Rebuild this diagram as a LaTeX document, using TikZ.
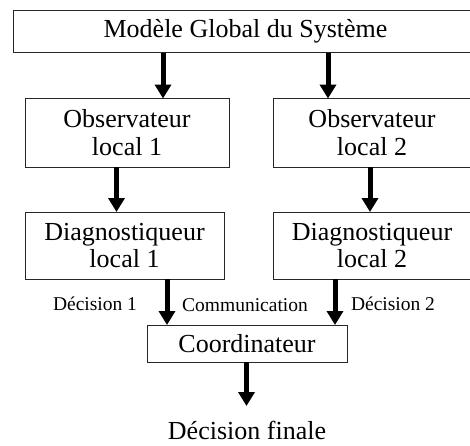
\documentclass[tikz,border=0pt]{standalone}
\usepackage{fontspec}
\setmainfont{Liberation Serif}
\usetikzlibrary{arrows.meta}
\begin{document}
\begin{tikzpicture}[x=1pt,y=-1pt,
  box/.style={draw=black!85,line width=1pt,rectangle,inner sep=0pt,outer sep=0pt,
    align=center,font=\fontsize{26}{27.5}\selectfont},
  lbl/.style={inner sep=0pt,anchor=base,font=\fontsize{19.5}{22}\selectfont},
  big/.style={inner sep=0pt,anchor=base,font=\fontsize{26}{27.5}\selectfont},
  arr/.style={line width=5pt,-{Triangle[width=16pt,length=14pt]}}]
\useasboundingbox (0,0) rectangle (470,445);
\begin{scope}
\clip (0,0) rectangle (470,445);
\node[box,minimum width=465pt,minimum height=42pt] (top) at (245.5,31.5) {Modèle Global du Système};
\node[box,minimum width=204pt,minimum height=68.5pt] (obs1) at (127,132.75) {Observateur\\local 1};
\node[box,minimum width=198pt,minimum height=68.5pt] (obs2) at (372,132.75) {Observateur\\local 2};
\node[box,minimum width=199pt,minimum height=67pt] (diag1) at (124.5,245.5) {Diagnostiqueur\\local 1};
\node[box,minimum width=198pt,minimum height=67pt] (diag2) at (372,245.5) {Diagnostiqueur\\local 2};
\node[box,minimum width=200pt,minimum height=37pt] (coord) at (247,343.5) {Coordinateur};
\end{scope}
\node[big] (final) at (247,439.5) {Décision finale};
\node[lbl] (d1) at (95,310) {Décision 1};
\node[lbl] (com) at (245,311) {Communication};
\node[lbl] (d2) at (393,310) {Décision 2};
\coordinate (fin) at (246.5,406);
\draw[arr] (top.south -| 163,0) -- (obs1.north -| 163,0);
\draw[arr] (top.south -| 328,0) -- (obs2.north -| 328,0);
\draw[arr] (obs1.south -| 116.5,0) -- (diag1.north -| 116.5,0);
\draw[arr] (obs2.south -| 370,0) -- (diag2.north -| 370,0);
\draw[arr] (diag1.south -| 167,0) -- (coord.north -| 167,0);
\draw[arr] (diag2.south -| 335,0) -- (coord.north -| 335,0);
\draw[arr] (coord.south -| fin) -- (fin);
\end{tikzpicture}
\end{document}
